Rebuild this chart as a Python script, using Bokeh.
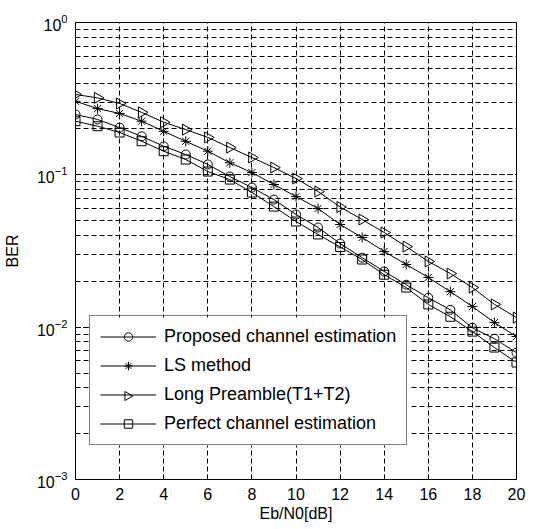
import math
from bokeh.plotting import figure
from bokeh.models import Range1d, FixedTicker, LogTicker, Legend, LegendItem, ColumnDataSource, BoxAnnotation
from bokeh.embed import file_html
from bokeh.resources import INLINE

ebn0 = list(range(0, 21))
proposed = [0.249, 0.231, 0.204, 0.179, 0.154, 0.136, 0.117, 0.0974, 0.0825, 0.0688, 0.0549,
            0.0451, 0.0354, 0.0286, 0.0232, 0.0190, 0.0156, 0.0130, 0.0099, 0.0084, 0.0068]
ls_method = [0.304, 0.272, 0.253, 0.225, 0.193, 0.166, 0.143, 0.120, 0.1035, 0.0864, 0.0720,
             0.0601, 0.0472, 0.0388, 0.0314, 0.0258, 0.0212, 0.0171, 0.01365, 0.01072, 0.00868]
long_preamble = [0.337, 0.320, 0.294, 0.257, 0.2215, 0.198, 0.176, 0.151, 0.130, 0.1116, 0.0945,
                 0.0777, 0.0615, 0.0509, 0.0418, 0.0338, 0.0270, 0.0225, 0.0182, 0.0141, 0.01156]
perfect = [0.225, 0.2086, 0.1896, 0.1662, 0.1429, 0.126, 0.1051, 0.0931, 0.0765, 0.0619, 0.0494,
           0.0406, 0.0336, 0.0278, 0.0221, 0.0182, 0.0141, 0.0117, 0.00935, 0.00735, 0.00586]
labels = ["Proposed channel estimation", "LS method", "Long Preamble(T1+T2)", "Perfect channel estimation"]
x_ticks = [0, 2, 4, 6, 8, 10, 12, 14, 16, 18, 20]

FONT = "Liberation Sans"
FW, FH = 441, 457
X0, X1, Y0, Y1 = 0, 20, 1e-3, 1.0


def px_to_x(px):
    return X0 + (X1 - X0) * px / FW


def px_to_y(py):
    return 10 ** (math.log10(Y0) + (math.log10(Y1) - math.log10(Y0)) * py / FH)


p = figure(width=519, height=513, frame_width=FW, frame_height=FH,
           y_axis_type="log", output_backend="svg", toolbar_location=None,
           x_range=Range1d(X0, X1), y_range=Range1d(Y0, Y1),
           min_border_left=68, min_border_top=22, min_border_right=10, min_border_bottom=34)
p.background_fill_color = "white"
p.border_fill_color = "white"
p.outline_line_color = "black"
p.outline_line_width = 1

# axes
p.xaxis.ticker = FixedTicker(ticks=x_ticks)
p.yaxis.ticker = LogTicker(mantissas=[1], num_minor_ticks=10)
for ax in (p.xaxis[0], p.yaxis[0]):
    ax.axis_line_color = "black"
    ax.major_tick_line_color = "black"
    ax.minor_tick_line_color = "black"
    ax.major_tick_in = 5
    ax.major_tick_out = 0
    ax.major_label_text_font = FONT
    ax.major_label_text_font_size = "16px"
    ax.major_label_text_color = "black"
    ax.axis_label_text_font = FONT
    ax.axis_label_text_font_size = "16px"
    ax.axis_label_text_font_style = "normal"
    ax.axis_label_text_color = "black"
p.xaxis.minor_tick_in = 0
p.xaxis.minor_tick_out = 0
p.yaxis.minor_tick_in = 3
p.yaxis.minor_tick_out = 0
p.xaxis.axis_label = "Eb/N0[dB]"
p.yaxis.axis_label = "BER"
p.xaxis.major_label_standoff = 8
p.xaxis.axis_label_standoff = 2
p.yaxis.major_label_standoff = 8
p.yaxis.axis_label_standoff = 13

# grid
for g in (p.xgrid[0], p.ygrid[0]):
    g.grid_line_color = "black"
    g.grid_line_dash = "5 3"
    g.grid_line_width = 1
p.ygrid.minor_grid_line_color = "black"
p.ygrid.minor_grid_line_dash = "5 3"
p.ygrid.minor_grid_line_width = 1

# legend geometry (screen px, relative to the frame's bottom-left)
LEG_X, LEG_Y, PAD, GH, SP, GW, LEG_W = 14, 34, 10, 21, 8, 56, 320
n_items = len(labels)
leg_h = 2 * PAD + n_items * GH + (n_items - 1) * SP

# white backing for the legend (legend itself is transparent so the overlay triangle shows)
p.add_layout(BoxAnnotation(left=px_to_x(LEG_X), right=px_to_x(LEG_X + LEG_W),
                           bottom=px_to_y(LEG_Y), top=px_to_y(LEG_Y + leg_h),
                           fill_color="white", fill_alpha=1.0, line_color=None,
                           level="glyph", editable=False))

items = []
series = [
    (proposed, "circle", 9, 0.0),
    (ls_method, "asterisk", 10, 0.0),
    (long_preamble, "triangle", 11, -math.pi / 2),
    (perfect, "square", 9, 0.0),
]
for (vals, marker, size, ang), lab in zip(series, labels):
    src = ColumnDataSource(data=dict(x=ebn0, y=vals))
    ln = p.line("x", "y", source=src, line_color="black", line_width=1)
    sc = p.scatter("x", "y", source=src, marker=marker, size=size, angle=ang,
                   line_color="black", fill_color=None, line_width=1)
    # legend glyphs ignore marker rotation; the rotated triangle is overlaid below
    items.append(LegendItem(label=lab, renderers=[ln] if ang else [ln, sc]))

legend = Legend(items=items, location=(LEG_X, LEG_Y))
legend.label_text_font = FONT
legend.label_text_font_size = "18px"
legend.label_text_color = "black"
legend.glyph_width = GW
legend.glyph_height = GH
legend.label_height = GH
legend.label_standoff = 8
legend.spacing = SP
legend.padding = PAD
legend.margin = 0
legend.border_line_color = "black"
legend.border_line_width = 1
legend.background_fill_alpha = 0.0
p.add_layout(legend, "center")

# right-pointing triangle for the third legend entry
cy_px = LEG_Y + leg_h - (PAD + 2 * (GH + SP) + GH / 2)
cx_px = LEG_X + PAD + GW / 2
p.scatter([px_to_x(cx_px)], [px_to_y(cy_px)], marker="triangle", size=9, angle=-math.pi / 2,
          line_color="black", fill_color=None, line_width=1, level="overlay")

open("out.html", "w").write(file_html(p, INLINE))
